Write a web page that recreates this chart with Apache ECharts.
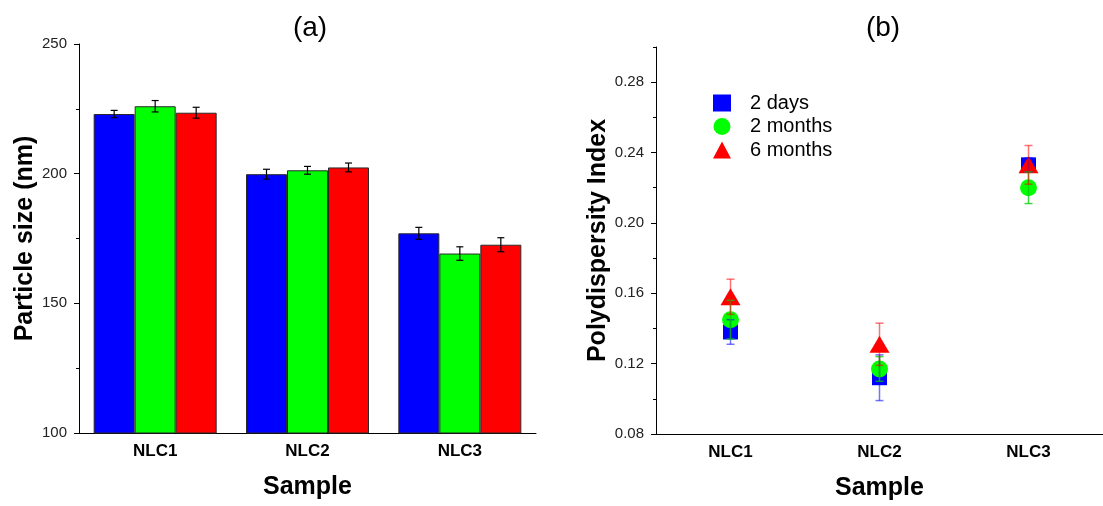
<!DOCTYPE html>
<html>
<head>
<meta charset="utf-8">
<script src="https://cdn.jsdelivr.net/npm/echarts@6/dist/echarts.min.js"></script>
<style>
  html, body { margin: 0; padding: 0; background: #fff; }
  #chart { width: 1103px; height: 506px; }
</style>
</head>
<body>
<div id="chart"></div>
<script>
// Samples on both panels
const categories = ['NLC1', 'NLC2', 'NLC3'];
const seriesNames = ['2 days', '2 months', '6 months'];
const seriesColors = ['#0000ff', '#00ff00', '#ff0000'];

// Panel (a): particle size (nm) and its standard deviation
const sizeDays = [223.0, 199.8, 177.0];
const sizeDaysErr = [1.4, 1.9, 2.3];
const sizeTwoMonths = [226.0, 201.3, 169.2];
const sizeTwoMonthsErr = [2.2, 1.5, 2.6];
const sizeSixMonths = [223.5, 202.4, 172.6];
const sizeSixMonthsErr = [2.1, 1.7, 2.7];
const sizeTicks = [100, 150, 200, 250];

// Panel (b): polydispersity index and its standard deviation
const pdiDays = [0.138, 0.112, 0.233];
const pdiDaysErr = [0.007, 0.013, 0.004];
const pdiTwoMonths = [0.145, 0.117, 0.220];
const pdiTwoMonthsErr = [0.011, 0.007, 0.009];
const pdiSixMonths = [0.158, 0.131, 0.233];
const pdiSixMonthsErr = [0.010, 0.012, 0.011];
const pdiTicks = [0.08, 0.12, 0.16, 0.20, 0.24, 0.28];
const pdiMinorTicks = [0.10, 0.14, 0.18, 0.22, 0.26, 0.30];

const FONT = 'Liberation Sans, Arial, sans-serif';
const sizeValues = [sizeDays, sizeTwoMonths, sizeSixMonths];
const sizeErrors = [sizeDaysErr, sizeTwoMonthsErr, sizeSixMonthsErr];
const pdiValues = [pdiDays, pdiTwoMonths, pdiSixMonths];
const pdiErrors = [pdiDaysErr, pdiTwoMonthsErr, pdiSixMonthsErr];

const BAR_W = 41;
const axisLineStyle = { color: '#000', width: 1 };

function errorData(values, errors) {
  return values.map((v, i) => [i, v - errors[i], v + errors[i]]);
}

// Draws a vertical error bar with caps, shifted sideways by dx pixels
function errorRenderer(dx, color, capHalf, width) {
  return function (params, api) {
    const hi = api.coord([api.value(0), api.value(2)]);
    const lo = api.coord([api.value(0), api.value(1)]);
    const x = hi[0] + dx;
    const style = { stroke: color, lineWidth: width, fill: null };
    return {
      type: 'group',
      children: [
        { type: 'line', shape: { x1: x, y1: hi[1], x2: x, y2: lo[1] }, style },
        { type: 'line', shape: { x1: x - capHalf, y1: hi[1], x2: x + capHalf, y2: hi[1] }, style },
        { type: 'line', shape: { x1: x - capHalf, y1: lo[1], x2: x + capHalf, y2: lo[1] }, style }
      ]
    };
  };
}

const series = [];

// Bars with black error bars
sizeValues.forEach((vals, k) => {
  series.push({
    name: seriesNames[k],
    type: 'bar',
    xAxisIndex: 0, yAxisIndex: 0,
    data: vals,
    barWidth: BAR_W,
    barGap: '0%',
    itemStyle: { color: seriesColors[k], borderColor: '#2a2a2a', borderWidth: 1 },
    z: 2
  });
});
sizeValues.forEach((vals, k) => {
  series.push({
    type: 'custom',
    xAxisIndex: 0, yAxisIndex: 0,
    data: errorData(vals, sizeErrors[k]),
    encode: { x: 0, y: [1, 2] },
    renderItem: errorRenderer((k - 1) * BAR_W, '#000', 3.5, 1.2),
    silent: true,
    z: 5
  });
});

// Scatter markers
const symbols = ['rect', 'circle', 'triangle'];
const symbolSizes = [15, 17, [20, 17]];
pdiValues.forEach((vals, k) => {
  series.push({
    name: seriesNames[k],
    type: 'scatter',
    xAxisIndex: 2, yAxisIndex: 2,
    data: vals,
    symbol: symbols[k],
    symbolSize: symbolSizes[k],
    itemStyle: { color: seriesColors[k], opacity: 1 },
    z: 3 + k
  });
});
const errColors = ['rgba(0,0,255,0.55)', 'rgba(0,200,0,0.75)', 'rgba(255,0,0,0.55)'];
pdiValues.forEach((vals, k) => {
  series.push({
    type: 'custom',
    xAxisIndex: 2, yAxisIndex: 2,
    data: errorData(vals, pdiErrors[k]),
    encode: { x: 0, y: [1, 2] },
    renderItem: errorRenderer(0, errColors[k], 4, 1.5),
    silent: true,
    z: 10
  });
});

const catLabel = { fontFamily: FONT, fontWeight: 'bold', fontSize: 17, color: '#000', margin: 10 };
const nameStyle = { fontFamily: FONT, fontWeight: 'bold', fontSize: 25, color: '#000' };
const tickLabel = { fontFamily: FONT, fontSize: 15, color: '#222', margin: 12 };

const option = {
  animation: false,
  backgroundColor: '#fff',
  grid: [
    { left: 79, top: 44, right: 567, bottom: 73 },
    { left: 656, top: 47, right: -7, bottom: 72 }
  ],
  legend: {
    data: [
      { name: '2 days', icon: 'rect', itemStyle: { color: seriesColors[0], borderWidth: 0 } },
      { name: '2 months', icon: 'circle', itemStyle: { color: seriesColors[1], borderWidth: 0 } },
      { name: '6 months', icon: 'triangle', itemStyle: { color: seriesColors[2], borderWidth: 0 } }
    ],
    orient: 'vertical',
    left: 708,
    top: 88,
    itemWidth: 18,
    itemHeight: 17,
    itemGap: 3.5,
    itemStyle: { borderWidth: 0 },
    textStyle: { fontFamily: FONT, fontSize: 20, color: '#000', padding: [0, 0, 0, 14], lineHeight: 18 },
    selectedMode: false
  },
  xAxis: [
    {
      gridIndex: 0, type: 'category', data: categories, position: 'bottom',
      name: 'Sample', nameLocation: 'middle', nameGap: 42, nameTextStyle: nameStyle,
      axisLine: { lineStyle: axisLineStyle },
      axisTick: { alignWithLabel: true, length: 5, lineStyle: axisLineStyle },
      axisLabel: catLabel,
      splitLine: { show: false }
    },
    {
      gridIndex: 0, type: 'category', data: categories, position: 'bottom',
      axisLine: { show: false },
      axisTick: { length: 3, lineStyle: axisLineStyle },
      axisLabel: { show: false },
      splitLine: { show: false }
    },
    {
      gridIndex: 1, type: 'category', data: categories, position: 'bottom',
      name: 'Sample', nameLocation: 'middle', nameGap: 42, nameTextStyle: nameStyle,
      axisLine: { lineStyle: axisLineStyle },
      axisTick: { alignWithLabel: true, length: 5, lineStyle: axisLineStyle },
      axisLabel: catLabel,
      splitLine: { show: false }
    },
    {
      gridIndex: 1, type: 'category', data: categories, position: 'bottom',
      axisLine: { show: false },
      axisTick: { length: 3, lineStyle: axisLineStyle },
      axisLabel: { show: false },
      splitLine: { show: false }
    }
  ],
  yAxis: [
    {
      gridIndex: 0, type: 'value', min: sizeTicks[0], max: sizeTicks[sizeTicks.length - 1], interval: 50,
      name: 'Particle size (nm)', nameLocation: 'middle', nameGap: 40, nameTextStyle: nameStyle,
      axisLine: { show: true, lineStyle: axisLineStyle },
      axisTick: { show: true, length: 5, lineStyle: axisLineStyle },
      minorTick: { show: true, splitNumber: 2, length: 3, lineStyle: axisLineStyle },
      axisLabel: tickLabel,
      splitLine: { show: false }
    },
    {
      gridIndex: 0, type: 'value', min: sizeTicks[0], max: sizeTicks[sizeTicks.length - 1], interval: 50,
      show: false
    },
    {
      gridIndex: 1, type: 'value', min: 0.08, max: 0.30, interval: 0.04, position: 'left',
      name: 'Polydispersity Index', nameLocation: 'middle', nameGap: 43, nameTextStyle: nameStyle,
      axisLine: { show: true, lineStyle: axisLineStyle },
      axisTick: { show: true, length: 5, lineStyle: axisLineStyle, customValues: pdiTicks },
      axisLabel: Object.assign({}, tickLabel, { customValues: pdiTicks, formatter: v => v.toFixed(2) }),
      splitLine: { show: false }
    },
    {
      gridIndex: 1, type: 'value', min: 0.08, max: 0.30, interval: 0.04, position: 'left',
      axisLine: { show: false },
      axisTick: { show: true, length: 3, lineStyle: axisLineStyle, customValues: pdiMinorTicks },
      axisLabel: { show: false },
      splitLine: { show: false }
    }
  ],
  graphic: [
    { type: 'text', x: 310, y: 28, style: { text: '(a)', font: '28px ' + FONT, fill: '#000', align: 'center', verticalAlign: 'middle' } },
    { type: 'text', x: 883, y: 28, style: { text: '(b)', font: '28px ' + FONT, fill: '#000', align: 'center', verticalAlign: 'middle' } }
  ],
  series: series
};

const chart = echarts.init(document.getElementById('chart'), null, { renderer: 'canvas' });
chart.setOption(option);
</script>
</body>
</html>
